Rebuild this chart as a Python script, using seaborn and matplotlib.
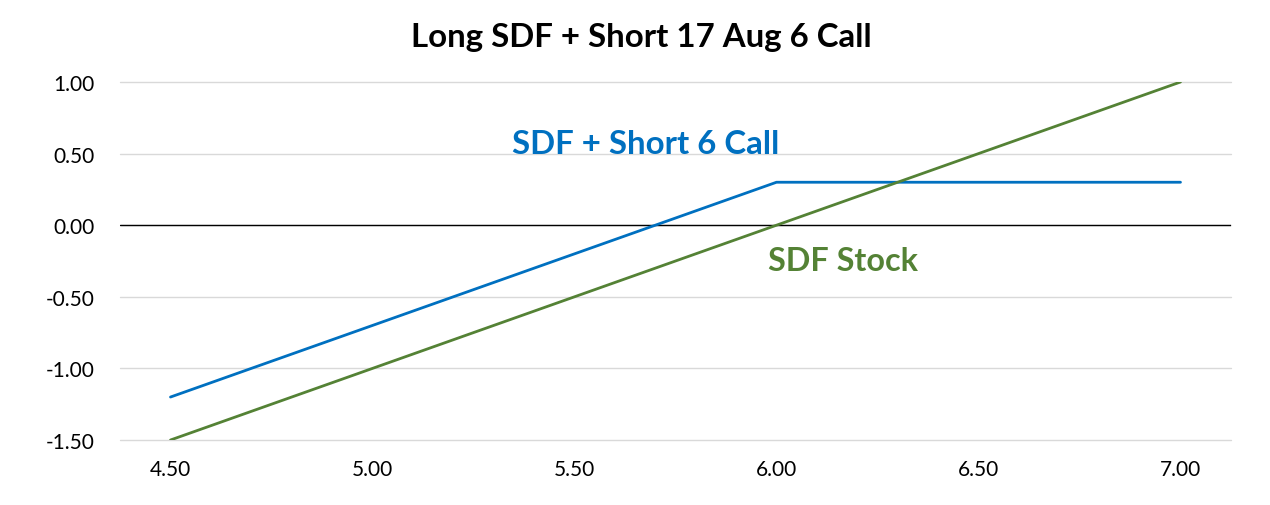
import numpy as np
import pandas as pd
import matplotlib
matplotlib.use("Agg")
import matplotlib.pyplot as plt
import seaborn as sns

# -----------------------------
# DATA
# -----------------------------

prices = [4.50, 4.75, 5.00, 5.25, 5.50, 5.75, 6.00, 6.25, 6.50, 6.75, 7.00]
stock_pl = [-1.50, -1.25, -1.00, -0.75, -0.50, -0.25, 0.00, 0.25, 0.50, 0.75, 1.00]
covered_pl = [-1.20, -0.95, -0.70, -0.45, -0.20, 0.05, 0.30, 0.30, 0.30, 0.30, 0.30]

x_ticks = [4.50, 5.00, 5.50, 6.00, 6.50, 7.00]
y_ticks = [-1.50, -1.00, -0.50, 0.00, 0.50, 1.00]

BLUE = "#0070C0"
GREEN = "#548235"

df = pd.DataFrame({
    "price": prices * 2,
    "pl": covered_pl + stock_pl,
    "series": ["SDF + Short 6 Call"] * len(prices) + ["SDF Stock"] * len(prices),
})

# -----------------------------
# PLOT
# -----------------------------

sns.set_style("white")
plt.rcParams["font.family"] = ["Lato", "DejaVu Sans"]
plt.rcParams["text.color"] = "black"

fig = plt.figure(figsize=(12.7, 5.06), dpi=100)
ax = fig.add_axes([120 / 1270, 1 - 441 / 506, 1111 / 1270, 358 / 506])

ax.set_axisbelow(True)
ax.yaxis.grid(True, color="#D9D9D9", linewidth=1.0, zorder=0)
ax.axhline(0, color="black", linewidth=1.0, zorder=1)

sns.lineplot(
    data=df,
    x="price",
    y="pl",
    hue="series",
    palette={"SDF + Short 6 Call": BLUE, "SDF Stock": GREEN},
    linewidth=2.0,
    legend=False,
    ax=ax,
    zorder=3,
)

ax.set_xlim(4.375, 7.125)
ax.set_ylim(-1.5, 1.0)
ax.set_xticks(x_ticks)
ax.set_yticks(y_ticks)
ax.set_xticklabels([f"{v:.2f}" for v in x_ticks])
ax.set_yticklabels([f"{v:.2f}" for v in y_ticks])
ax.tick_params(axis="both", length=0, labelsize=15, colors="black")
ax.tick_params(axis="y", pad=18)
ax.tick_params(axis="x", pad=14)
ax.set_xlabel("")
ax.set_ylabel("")

for gl in ax.get_ygridlines():
    gl.set_clip_on(False)

for s in ax.spines.values():
    s.set_visible(False)

fig.text(641 / 1270, 1 - 38 / 506, "Long SDF + Short 17 Aug 6 Call",
         ha="center", va="center", fontsize=23.8, fontweight="bold",
         color="black")

ax.text(5.675, 0.57, "SDF + Short 6 Call", color=BLUE, fontsize=23.8,
        fontweight="bold", ha="center", va="center")
ax.text(6.165, -0.25, "SDF Stock", color=GREEN, fontsize=23.3,
        fontweight="bold", ha="center", va="center")

fig.savefig("out.png", dpi=100, facecolor="white")
plt.close()
